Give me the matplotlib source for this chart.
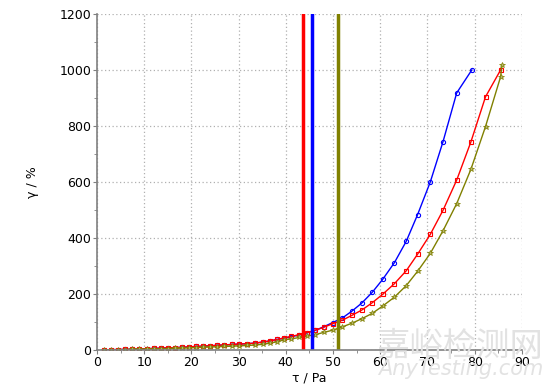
import matplotlib.pyplot as plt
from matplotlib.ticker import MultipleLocator

# shear stress grid (Pa)
tau = [1.5, 3.0, 4.5, 6.0, 7.5, 9.0, 10.5, 12.0, 13.5, 15.0, 16.5, 18.0, 19.5,
       21.0, 22.5, 24.0, 25.5, 27.0, 28.5, 30.0, 31.8, 33.5, 35.2, 36.7, 38.2,
       39.7, 41.2, 42.8, 44.4, 46.2, 48.0, 49.9, 52.0, 54.0, 56.1, 58.3, 60.5,
       63.0, 65.5, 67.9, 70.6, 73.3, 76.2, 79.2, 82.3, 85.5]

strain_red = [1, 1.5, 2, 2.5, 3, 4, 5, 6, 7, 8, 9, 10, 11.5, 13, 14, 15.5, 17,
              18.5, 20, 21.5, 23, 25, 29, 33, 38, 44, 49, 55, 62, 71, 81, 94,
              107, 124, 143, 169, 199, 237, 283, 342, 413, 499, 607, 743, 904, 1000]

strain_olive = [0.5, 1, 1.5, 2, 2.5, 3, 3.5, 4, 5, 5.5, 6.5, 7, 8, 9, 10, 11,
                12, 13, 14, 15, 16.5, 18, 21, 25, 30, 37, 40, 45, 50, 55, 63, 71,
                83, 96, 112, 131, 157, 189, 230, 281, 345, 426, 523, 645, 798, 976]
olive_end = (85.8, 1018)

tau_blue = tau[:43] + [79.4]
strain_blue = [1, 1.5, 2, 2.5, 3, 4, 5, 6, 7, 8, 9, 10, 11.5, 13, 14, 15.5, 17,
               18.5, 20, 21.5, 23, 25, 29, 33, 38, 43, 48, 54, 61, 70, 83, 98,
               115, 139, 168, 206, 252, 312, 388, 483, 600, 744, 918, 1000]

# yield stress markers (Pa)
yield_red = 43.6
yield_blue = 45.6
yield_olive = 51.0

olive = '#808000'

fig = plt.figure(figsize=(5.54, 3.86), dpi=100)
ax = fig.add_axes([0.175, 0.093, 0.767, 0.871])

# watermark behind everything
fig.text(0.83, 0.103, '嘉峪检测网', fontsize=24, color='#e2e2e2',
         family=['Noto Sans CJK SC', 'DejaVu Sans'], ha='center', va='center',
         zorder=0)
fig.text(0.832, 0.044, 'AnyTesting.com', fontsize=15, color='#e2e2e2',
         style='italic', ha='center', va='center', zorder=0)
ax.patch.set_alpha(0)

ax.plot(tau_blue, strain_blue, color='blue', lw=1, marker='o', ms=3,
        mfc='none', mew=0.8)
ax.plot(tau, strain_red, color='red', lw=1, marker='s', ms=3.5,
        mfc='none', mew=0.8)
ax.plot(tau + [olive_end[0]], strain_olive + [olive_end[1]], color=olive, lw=1,
        marker='*', ms=4, mfc='#b5b56a', mec=olive, mew=0.5)

ax.axvline(yield_red, color='red', lw=2.5)
ax.axvline(yield_blue, color='blue', lw=2.5)
ax.axvline(yield_olive, color=olive, lw=2.5)

ax.set_xlim(0, 90)
ax.set_ylim(0, 1200)
ax.xaxis.set_major_locator(MultipleLocator(10))
ax.xaxis.set_minor_locator(MultipleLocator(5))
ax.yaxis.set_major_locator(MultipleLocator(200))
ax.yaxis.set_minor_locator(MultipleLocator(100))
ax.grid(True, which='major', color='#b0b0b0', linestyle=(0, (1, 2)), lw=0.9)

for s in ['top', 'right']:
    ax.spines[s].set_visible(False)
for s in ['left', 'bottom']:
    ax.spines[s].set_color('#808080')
    ax.spines[s].set_linewidth(1.2)
ax.tick_params(which='both', direction='out', color='#808080', labelsize=9,
               pad=1)
ax.tick_params(which='major', length=3)
ax.tick_params(which='minor', length=2)

ax.set_xlabel('τ / Pa', fontsize=9, labelpad=2)
ax.set_ylabel('γ / %', fontsize=9, labelpad=15)

plt.savefig('out.png')
